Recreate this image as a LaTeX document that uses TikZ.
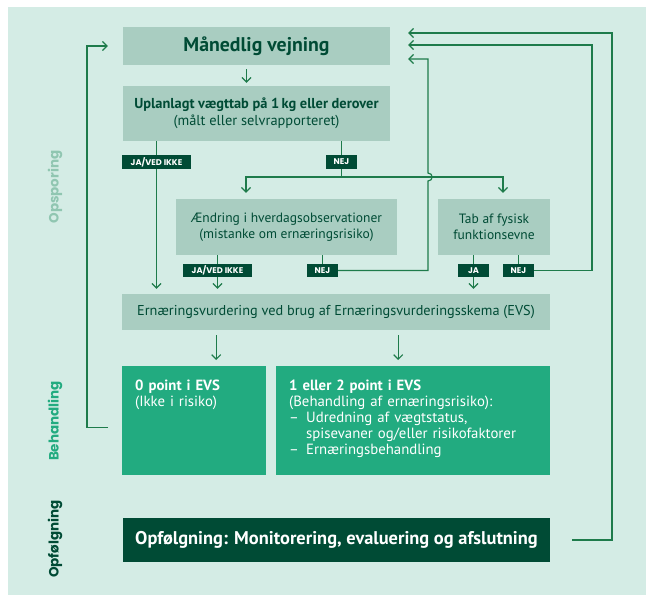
\documentclass[tikz,border=0pt]{standalone}
\usepackage{fontspec}
\setmainfont{PT Sans}
\newfontfamily\sidefont{Poppins}
\usetikzlibrary{arrows.meta,calc}

\definecolor{bggreen}{HTML}{D4ECE5}
\definecolor{boxgreen}{HTML}{A9CDC1}
\definecolor{darkgreen}{HTML}{004B35}
\definecolor{midgreen}{HTML}{22AB80}
\definecolor{linegreen}{HTML}{1E7B4B}
\definecolor{palegreen}{HTML}{90C6B1}

\newcommand{\fs}[2]{\fontsize{#1}{#2}\selectfont}

\begin{document}
\begin{tikzpicture}[x=1pt,y=-1pt,
                    wire/.style={linegreen,line width=1.2pt},
                    arr/.style={wire,-{Straight Barb[length=4.5pt,width=9pt]}}]
  \tikzstyle{box}=[fill=boxgreen,text=darkgreen,inner sep=0pt,align=center]
  \tikzstyle{res}=[fill=midgreen,text=white,anchor=north west,align=left,
                   inner xsep=13pt,inner ysep=13pt,text height=11pt,text depth=72pt,
                   font=\fs{14.8}{16}]
  \tikzstyle{tag}=[fill=darkgreen,text=white,inner sep=0pt,minimum height=13.5pt,
                   font=\sidefont\bfseries\fs{8.3}{9}]
  \tikzstyle{side}=[rotate=90,font=\sidefont\bfseries\fs{13.5}{15}]

  \useasboundingbox (0,0) rectangle (646,595);
  \fill[bggreen] (8,7) rectangle (646,595);

  % boxes
  \node[box,minimum width=267pt,minimum height=38pt,font=\bfseries\fs{19.8}{22}] (maaned) at (256.5,46) {Månedlig vejning};
  \node[box,minimum width=267pt,minimum height=55pt,font=\fs{14.4}{17}] (uplan) at (256.5,113.5)
       {\textbf{Uplanlagt vægttab på 1\,kg eller derover}\\(målt eller selvrapporteret)};
  \node[box,minimum width=221pt,minimum height=56pt,font=\fs{13.5}{16}] (aendr) at (286.5,227)
       {Ændring i hverdagsobservationer\\(mistanke om ernæringsrisiko)};
  \node[box,minimum width=112pt,minimum height=56pt,font=\fs{13.5}{16}] (tab) at (494,227)
       {Tab af fysisk\\funktionsevne};
  \node[box,minimum width=428pt,minimum height=36pt,font=\fs{14.3}{16}] (evs) at (336,312)
       {Ernæringsvurdering ved brug af Ernæringsvurderingsskema (EVS)};
  \node[res,text width=118pt] (nul) at (122,366)
       {\textbf{0 point i EVS}\\(Ikke i risiko)};
  \node[res,text width=248pt] (en) at (276,366)
       {\textbf{1 eller 2 point i EVS}\\
        (Behandling af ernæringsrisiko):\\
        \makebox[17pt][l]{--}Udredning af vægtstatus,\\
        \hspace*{17pt}spisevaner og/eller risikofaktorer\\
        \makebox[17pt][l]{--}Ernæringsbehandling};
  \node[fill=darkgreen,text=white,minimum width=427pt,minimum height=44pt,
        font=\bfseries\fs{18.4}{20}] (opf) at (336.5,540)
       {Opfølgning: Monitorering, evaluering og afslutning};

  % answer tags
  \node[tag,minimum width=69pt] (ja1)  at (156.5,162) {JA/VED IKKE};
  \node[tag,minimum width=31pt] (nej1) at (341.5,162) {NEJ};
  \node[tag,minimum width=69pt] (ja2)  at (217.5,270.5) {JA/VED IKKE};
  \node[tag,minimum width=31pt] (nej2) at (322.5,270.5) {NEJ};
  \node[tag,minimum width=31pt] (ja3)  at (473.5,270.5) {JA};
  \node[tag,minimum width=31pt] (nej3) at (518.5,270.5) {NEJ};

  % phases
  \node[side,text=palegreen]  (sopsp) at (55,187) {Opsporing};
  \node[side,text=midgreen]   (sbeh)  at (55,421) {Behandling};
  \node[side,text=darkgreen]  (sopf)  at (55,539) {Opfølgning};

  \coordinate (br)  at (341.5,177);
  \coordinate (hop) at (428,177);
  \coordinate (lft) at (87,46);
  \coordinate (r1)  at (612,33);
  \coordinate (r2)  at (592,45);

  \draw[arr,shorten <=4pt,shorten >=3pt] ([xshift=-10pt]maaned.south) -- ([xshift=-10pt]uplan.north);

  \draw[wire] (ja1.north |- uplan.south) -- (ja1.north);
  \draw[wire] (nej1.north |- uplan.south) -- (nej1.north);
  \draw[arr,shorten >=5pt] (ja1.south) -- (ja1.south |- evs.north);
  \draw[wire] (nej1.south) -- (br);
  \draw[arr,shorten >=6pt] (br) -| ([xshift=-40.5pt]aendr.north);
  \draw[arr,shorten >=6pt] (br) -| ([xshift=9pt]tab.north);

  \draw[wire] (ja2.north |- aendr.south) -- (ja2.north);
  \draw[wire] (nej2.north |- aendr.south) -- (nej2.north);
  \draw[wire] (ja3.north |- tab.south) -- (ja3.north);
  \draw[wire] (nej3.north |- tab.south) -- (nej3.north);
  \draw[arr,shorten >=5pt] (ja2.south) -- (ja2.south |- evs.north);
  \draw[arr,shorten >=5pt] (ja3.south) -- (ja3.south |- evs.north);

  \draw[arr,shorten >=18pt] (nej2.east) -| ($(hop)+(0,4)$)
       .. controls ($(hop)+(5.5,4)$) and ($(hop)+(5.5,-4)$) .. ($(hop)+(0,-4)$)
       |- ($(maaned.east)+(0,13)$);
  \draw[arr,shorten >=18pt] (nej3.east) -| (r2) -- (maaned.east |- r2);

  \draw[arr,shorten <=5pt,shorten >=6pt] ([xshift=22pt]nul.north |- evs.south) -- ([xshift=22pt]nul.north);
  \draw[arr,shorten <=5pt,shorten >=6pt] ([xshift=-15pt]en.north |- evs.south) -- ([xshift=-15pt]en.north);

  \draw[arr,shorten <=14pt,shorten >=15pt] ($(nul.west)+(0,6.5)$) -| (lft) -- (maaned.west);
  \draw[arr,shorten <=22pt,shorten >=18pt] (opf.east) -| (r1) -- (maaned.east |- r1);
\end{tikzpicture}
\end{document}
